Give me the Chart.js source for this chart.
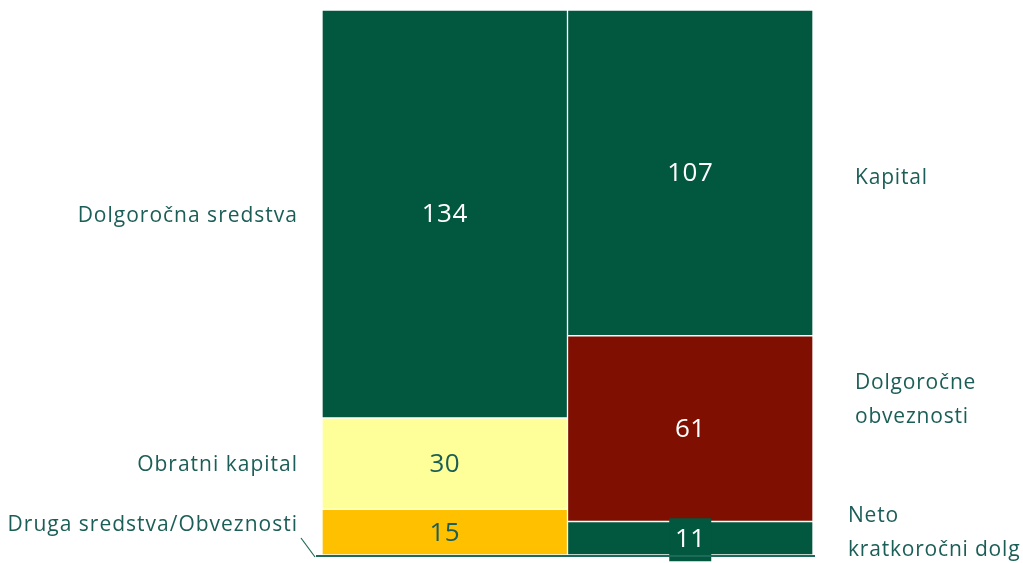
<!DOCTYPE html>
<html><head><meta charset="utf-8">
<script src="https://cdn.jsdelivr.net/npm/chart.js@4/dist/chart.umd.min.js"></script>
<style>html,body{margin:0;padding:0;background:#fff}#wrap{width:1023px;height:563px;position:relative}</style>
</head><body><div id="wrap"><canvas id="c"></canvas></div>
<script>
const categories = ['Sredstva', 'Obveznosti'];
const bottomValues = [15, 11];
const middleValues = [30, 61];
const topValues = [134, 107];
const leftLabels = ['Druga sredstva/Obveznosti', 'Obratni kapital', 'Dolgoročna sredstva'];
const rightLabels = [['Neto', 'kratkoročni dolg'], ['Dolgoročne', 'obveznosti'], ['Kapital']];

const GREEN = '#02573F', YELLOW = '#FFFF99', ORANGE = '#FFC000', RED = '#7F0F00', TEXT = '#1B5E57';
const FONT = '"Open Sans", sans-serif';

const labelPlugin = {
  id: 'labels',
  afterDatasetsDraw(chart) {
    const ctx = chart.ctx;
    const y = chart.scales.y;
    ctx.save();
    const valueColors = [[TEXT, '#FFFFFF'], [TEXT, '#FFFFFF'], ['#FFFFFF', '#FFFFFF']];
    chart.data.datasets.forEach((ds, di) => {
      const meta = chart.getDatasetMeta(di);
      meta.data.forEach((bar, i) => {
        const cx = bar.x, cy = (bar.y + bar.base) / 2;
        ctx.font = '26px ' + FONT;
        ctx.letterSpacing = '0.5px';
        ctx.textAlign = 'center'; ctx.textBaseline = 'middle';
        const txt = String(ds.data[i]);
        if (di === 0 && i === 1) {
          ctx.fillStyle = GREEN;
          ctx.fillRect(cx - 21, cy - 20, 42, 43);
        }
        ctx.fillStyle = valueColors[di][i];
        ctx.fillText(txt, cx, cy + 1);
      });
    });
    const m0 = chart.data.datasets.map((d, di) => chart.getDatasetMeta(di).data[0]);
    const m1 = chart.data.datasets.map((d, di) => chart.getDatasetMeta(di).data[1]);
    ctx.font = '21px ' + FONT;
    ctx.letterSpacing = '1px';
    ctx.fillStyle = TEXT;
    ctx.textAlign = 'right'; ctx.textBaseline = 'middle';
    const leftOff = [-7, 1, 2];
    leftLabels.forEach((t, k) => {
      const b = m0[k];
      ctx.fillText(t, 298, (b.y + b.base) / 2 + leftOff[k]);
    });
    ctx.textAlign = 'left';
    ctx.letterSpacing = '0.8px';
    const rightOff = [-5, -29, 5];
    const rightX = [848, 855, 855];
    rightLabels.forEach((lines, k) => {
      const b = m1[k];
      const c = (b.y + b.base) / 2 + rightOff[k];
      const h = 34;
      lines.forEach((ln, j) => {
        ctx.fillText(ln, rightX[k], c + (j - (lines.length - 1) / 2) * h);
      });
    });
    const base = y.getPixelForValue(0) + 1;
    ctx.strokeStyle = '#1E6A5A';
    ctx.lineWidth = 2;
    ctx.beginPath();
    ctx.moveTo(316, base); ctx.lineTo(815, base); ctx.stroke();
    ctx.lineWidth = 1.2;
    ctx.beginPath();
    ctx.moveTo(301, 538); ctx.lineTo(315, base + 1); ctx.stroke();
    ctx.restore();
  }
};

new Chart(document.getElementById('c'), {
  type: 'bar',
  data: {
    labels: categories,
    datasets: [
      { data: bottomValues, backgroundColor: [ORANGE, GREEN] },
      { data: middleValues, backgroundColor: [YELLOW, RED] },
      { data: topValues, backgroundColor: [GREEN, GREEN] }
    ].map(d => Object.assign(d, { borderColor: 'rgba(255,255,255,0.85)', borderWidth: 1, borderSkipped: false, categoryPercentage: 1, barPercentage: 1 }))
  },
  options: {
    responsive: true, maintainAspectRatio: false, animation: false,
    layout: { padding: { left: 322, right: 210, top: 10, bottom: 8 } },
    plugins: { legend: { display: false }, tooltip: { enabled: false } },
    scales: {
      x: { stacked: true, display: false },
      y: { stacked: true, display: false, min: 0, max: 179 }
    }
  },
  plugins: [labelPlugin]
});
</script></body></html>
